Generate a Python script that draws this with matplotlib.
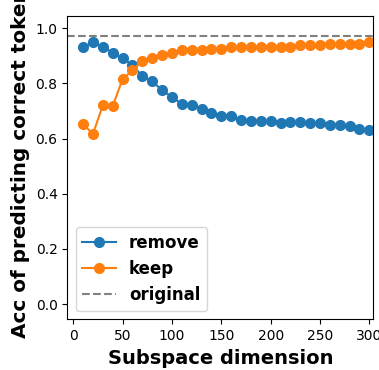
import matplotlib
matplotlib.use("Agg")
import matplotlib.pyplot as plt

dims = list(range(10, 301, 10))
remove_acc = [0.931, 0.948, 0.931, 0.911, 0.890, 0.867, 0.825, 0.807, 0.775, 0.750,
              0.725, 0.721, 0.707, 0.693, 0.682, 0.682, 0.667, 0.663, 0.663, 0.663,
              0.656, 0.660, 0.660, 0.656, 0.656, 0.650, 0.650, 0.646, 0.635, 0.632]
keep_acc = [0.651, 0.617, 0.721, 0.718, 0.815, 0.847, 0.882, 0.893, 0.904, 0.911,
            0.919, 0.919, 0.922, 0.926, 0.926, 0.930, 0.930, 0.930, 0.933, 0.933,
            0.933, 0.933, 0.937, 0.937, 0.937, 0.941, 0.941, 0.941, 0.944, 0.948]
original_acc = 0.970

fig = plt.figure(figsize=(3.79, 3.70), dpi=100)
ax = fig.add_axes([0.1776, 0.137, 0.8074, 0.8206])

ax.plot(dims, remove_acc, "-o", color="tab:blue", markersize=7, label="remove")
ax.plot(dims, keep_acc, "-o", color="tab:orange", markersize=7, label="keep")
ax.axhline(original_acc, color="gray", linestyle="--", label="original")

ax.set_xlim(-6, 304)
ax.set_ylim(-0.055, 1.045)
ax.set_xlabel("Subspace dimension", fontsize=14, fontweight="bold")
ax.set_ylabel("Acc of predicting correct token", fontsize=14.4, fontweight="bold")
# nudge label up so the end of "token" is clipped like the original
ax.yaxis.label.set_y(0.515)
ax.legend(loc="lower left", prop={"weight": "bold", "size": 12})

fig.savefig("out.png", dpi=100)
